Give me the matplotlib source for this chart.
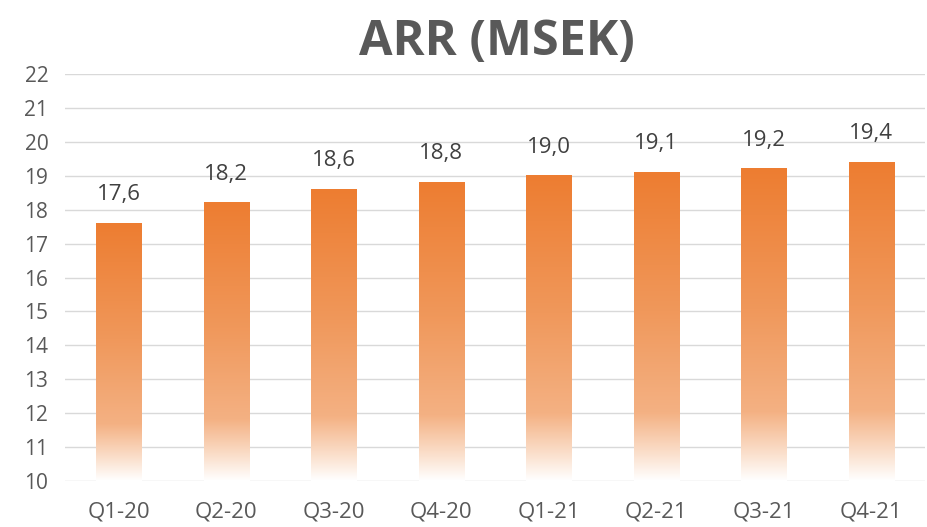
import numpy as np
import matplotlib
matplotlib.use("Agg")
import matplotlib.pyplot as plt
from matplotlib.colors import LinearSegmentedColormap

categories = ["Q1-20", "Q2-20", "Q3-20", "Q4-20", "Q1-21", "Q2-21", "Q3-21", "Q4-21"]
values = [17.6, 18.2, 18.6, 18.8, 19.0, 19.1, 19.2, 19.4]
labels = ["17,6", "18,2", "18,6", "18,8", "19,0", "19,1", "19,2", "19,4"]
yticks = list(range(10, 23))

plt.rcParams['font.family'] = ['Open Sans', 'DejaVu Sans']

fig = plt.figure(figsize=(9.28, 5.27), dpi=100)
ax = fig.add_axes([65/928, 1 - 481/527, 860/928, (481 - 74)/527])

ymin, ymax = 10, 22
ax.set_ylim(ymin, ymax)
x = np.arange(len(categories))
ax.set_xlim(-0.5, len(categories) - 0.5)

cmap = LinearSegmentedColormap.from_list(
    "grad",
    [(0.0, "#ED7D31"), (0.45, "#F0985B"), (0.78, "#F4B183"), (0.92, "#FBE2D0"), (1.0, "#FFFFFF")])
grad = np.linspace(0, 1, 256).reshape(-1, 1)

width = 0.42
bars = ax.bar(x, [v - ymin for v in values], bottom=ymin, width=width, color="none", edgecolor="none", zorder=2)
for b, v in zip(bars, values):
    x0 = b.get_x()
    ax.imshow(grad, cmap=cmap, aspect="auto", extent=(x0, x0 + width, ymin, v),
              origin="upper", zorder=2, interpolation="bilinear")

for xi, v, lab in zip(x, values, labels):
    ax.annotate(lab, (xi, v), xytext=(0, 13), textcoords="offset points",
                ha="center", va="bottom", fontsize=16, color="#404040")

ax.set_yticks(yticks)
ax.set_xticks(x)
ax.set_xticklabels(categories)
ax.tick_params(axis="y", length=0, labelsize=15, colors="#595959", pad=12)
ax.tick_params(axis="x", length=0, labelsize=16, colors="#595959", pad=15)
ax.grid(axis="y", color="#D9D9D9", linewidth=1, zorder=0)
ax.set_axisbelow(True)
for s in ax.spines.values():
    s.set_visible(False)

fig.text(497/928, 1 - 42/527, "ARR (MSEK)", ha="center", va="center", fontsize=35,
         fontweight="bold", color="#595959")

fig.savefig("out.png", dpi=100)
